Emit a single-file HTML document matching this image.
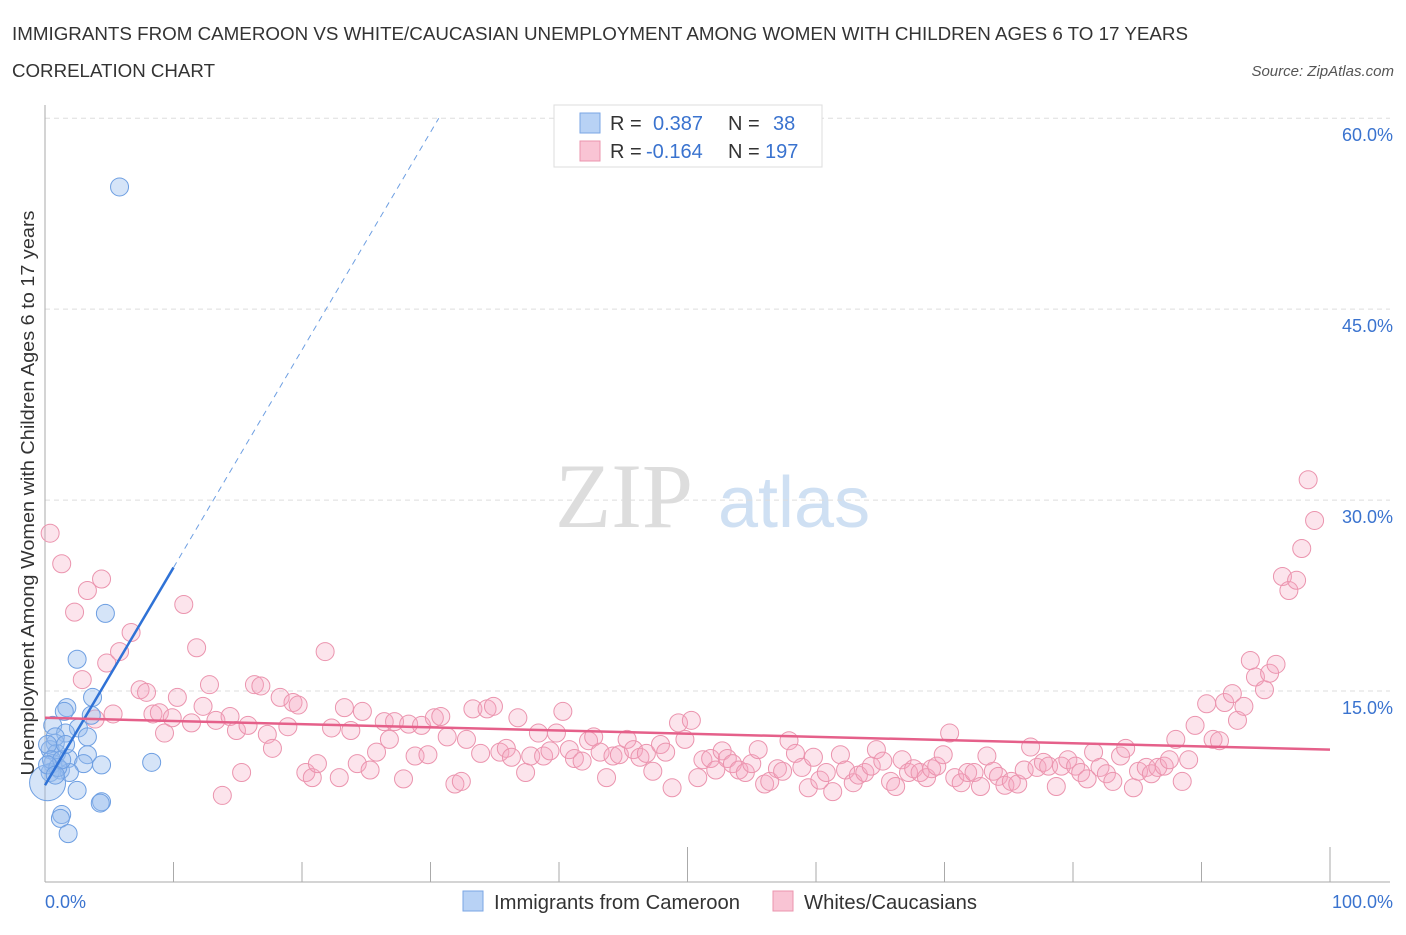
<!DOCTYPE html>
<html><head><meta charset="utf-8"><style>
body{margin:0;background:#fff;font-family:"Liberation Sans",sans-serif;}
</style></head><body>
<svg id="chart" width="1406" height="930" xmlns="http://www.w3.org/2000/svg" font-family="Liberation Sans, sans-serif">
<text x="12" y="40" font-size="18" fill="#333" textLength="1176" lengthAdjust="spacingAndGlyphs">IMMIGRANTS FROM CAMEROON VS WHITE/CAUCASIAN UNEMPLOYMENT AMONG WOMEN WITH CHILDREN AGES 6 TO 17 YEARS</text>
<text x="12" y="77" font-size="18" fill="#333" textLength="203" lengthAdjust="spacingAndGlyphs">CORRELATION CHART</text>
<text x="1394" y="76" font-size="15" fill="#555" font-style="italic" text-anchor="end">Source: ZipAtlas.com</text>
<text x="555" y="527" font-size="92" fill="#ddd" font-family="Liberation Serif, serif">ZIP</text>
<text x="718" y="527" font-size="72" fill="#cfe0f3">atlas</text>
<g id="grid"></g>
<g id="axes"></g>
<g id="points"></g>
<g id="trends"></g>
<text transform="translate(34,493) rotate(-90)" font-size="18" fill="#333" text-anchor="middle" textLength="565" lengthAdjust="spacingAndGlyphs">Unemployment Among Women with Children Ages 6 to 17 years</text>
<g>
<rect x="554" y="105" width="268" height="62" fill="#fff" stroke="#ddd"/>
<rect x="580" y="113" width="20" height="20" fill="#b8d2f5" stroke="#7aa6e4"/>
<rect x="580" y="141" width="20" height="20" fill="#f9c4d4" stroke="#eb94ae"/>
<text x="610" y="130" font-size="20" fill="#333">R = </text><text x="653" y="130" font-size="20" fill="#3a73cf">0.387</text>
<text x="728" y="130" font-size="20" fill="#333">N = </text><text x="773" y="130" font-size="20" fill="#3a73cf">38</text>
<text x="610" y="158" font-size="20" fill="#333">R = </text><text x="646" y="158" font-size="20" fill="#3a73cf">-0.164</text>
<text x="728" y="158" font-size="20" fill="#333">N = </text><text x="765" y="158" font-size="20" fill="#3a73cf">197</text>
</g>
<g>
<rect x="463" y="891" width="20" height="20" fill="#b8d2f5" stroke="#7aa6e4"/>
<text x="494" y="909" font-size="20" fill="#333" textLength="246" lengthAdjust="spacingAndGlyphs">Immigrants from Cameroon</text>
<rect x="773" y="891" width="20" height="20" fill="#f9c4d4" stroke="#eb94ae"/>
<text x="804" y="909" font-size="20" fill="#333" textLength="173" lengthAdjust="spacingAndGlyphs">Whites/Caucasians</text>
</g>
</svg>
<script>
const yTicks=[15,30,45,60];
const yTickLabels=["15.0%","30.0%","45.0%","60.0%"];
const xTicks=[0,10,20,30,40,50,60,70,80,90,100];
const blueX=[5.8,4.7,2.5,3.7,1.7,1.5,3.6,0.6,2.6,1.6,3.3,0.8,0.4,0.9,1.8,3.3,3.0,4.4,0.6,1.2,1.9,0.4,0.2,2.5,4.4,4.3,1.3,1.2,1.8,8.3,0.8,0.2,0.5,1.0,1.3,0.2,0.8,1.6];
const blueY=[54.6,21.1,17.5,14.5,13.7,13.4,13.1,12.3,12.1,11.7,11.4,10.9,10.4,10.1,9.7,10.0,9.3,9.2,9.3,8.8,8.6,8.6,7.8,7.2,6.3,6.2,5.3,5.0,3.8,9.4,11.4,10.8,9.6,9.0,9.6,9.2,8.4,10.8];
const pinkX=[0.4,1.3,2.3,3.3,4.4,2.9,4.8,5.8,6.7,5.3,3.9,7.4,7.9,8.4,8.9,9.3,9.9,10.3,10.8,11.4,11.8,12.3,12.8,13.3,13.8,14.4,14.9,15.3,15.8,16.3,16.8,17.3,17.7,18.3,18.9,19.3,19.7,20.3,20.8,21.2,21.8,22.3,22.9,23.3,23.8,24.3,24.7,25.3,25.8,26.4,26.8,27.2,27.9,28.3,28.8,29.3,29.8,30.3,30.8,31.3,31.9,32.4,32.8,33.3,33.9,34.4,34.9,35.4,35.9,36.3,36.8,37.4,37.8,38.4,38.8,39.3,39.8,40.3,40.8,41.2,41.8,42.3,42.7,43.2,43.7,44.2,44.7,45.3,45.8,46.3,46.8,47.3,47.9,48.3,48.8,49.3,49.8,50.3,50.8,51.2,51.8,52.2,52.7,53.1,53.5,54.0,54.5,55.0,55.5,56.0,56.4,57.0,57.4,57.9,58.4,58.9,59.4,59.8,60.3,60.8,61.3,61.9,62.3,62.9,63.3,63.8,64.3,64.7,65.2,65.8,66.2,66.7,67.2,67.6,68.1,68.6,69.0,69.4,69.9,70.4,70.8,71.3,71.8,72.3,72.8,73.3,73.8,74.2,74.7,75.2,75.7,76.2,76.7,77.2,77.7,78.1,78.7,79.1,79.6,80.2,80.6,81.1,81.6,82.1,82.6,83.1,83.7,84.1,84.7,85.1,85.7,86.1,86.6,87.1,87.5,88.0,88.5,89.0,89.5,90.4,90.9,91.4,91.8,92.4,92.8,93.3,93.8,94.2,94.9,95.3,95.8,96.3,96.8,97.4,97.8,98.3,98.8];
const pinkY=[27.4,25.0,21.2,22.9,23.8,15.9,17.2,18.1,19.6,13.2,12.8,15.1,14.9,13.2,13.3,11.7,12.9,14.5,21.8,12.5,18.4,13.8,15.5,12.7,6.8,13.0,11.9,8.6,12.3,15.5,15.4,11.6,10.5,14.5,12.2,14.1,13.9,8.6,8.2,9.3,18.1,12.1,8.2,13.7,11.9,9.3,13.4,8.8,10.2,12.6,11.2,12.6,8.1,12.4,9.9,12.3,10.0,12.9,13.0,11.4,7.7,7.9,11.2,13.6,10.1,13.6,13.8,10.2,10.5,9.8,12.9,8.6,9.9,11.7,9.9,10.3,11.7,13.4,10.4,9.7,9.5,11.1,11.4,10.2,8.2,9.9,10.0,11.2,10.4,9.8,10.1,8.7,10.8,10.2,7.4,12.5,11.2,12.7,8.2,9.6,9.7,8.8,10.3,9.7,9.3,8.8,8.6,9.3,10.4,7.7,7.9,8.9,8.7,11.1,10.1,9.0,7.4,9.8,8.0,8.6,7.1,10.0,8.8,7.8,8.4,8.6,9.1,10.4,9.5,7.9,7.5,9.6,8.6,8.9,8.6,8.2,8.9,9.1,10.0,11.7,8.2,7.8,8.6,8.6,7.5,9.9,8.7,8.3,7.6,7.9,7.7,8.8,10.6,9.0,9.4,9.1,7.5,9.1,9.6,9.1,8.6,8.1,10.2,9.0,8.5,7.9,9.9,10.5,7.4,8.7,9.0,8.5,9.0,9.1,9.6,11.2,7.9,9.6,12.3,14.0,11.2,11.1,14.1,14.8,12.7,13.8,17.4,16.1,15.1,16.4,17.1,24.0,22.9,23.7,26.2,31.6,28.4];
const blueTrend=[7.6,1.71];
const pinkTrend=[12.9,-0.025];
const X0=45,X1=1330,Y0=882,YPER=12.73;
function sx(v){return X0+(X1-X0)*v/100;}
function sy(v){return Y0-v*YPER;}
const NS="http://www.w3.org/2000/svg";
function mk(tag,attrs,parent){const e=document.createElementNS(NS,tag);for(const k in attrs)e.setAttribute(k,attrs[k]);parent.appendChild(e);return e;}
const grid=document.getElementById('grid'),axes=document.getElementById('axes'),pts=document.getElementById('points'),tr=document.getElementById('trends');
yTicks.forEach((t,i)=>{
 const l=mk('line',{x1:X0,x2:1390,y1:sy(t),y2:sy(t),stroke:'#ddd','stroke-dasharray':'5,4'},grid);
 
 
 const tx=mk('text',{x:1393,y:sy(t)+23,'font-size':18,fill:'#3a73cf','text-anchor':'end'},grid);
 tx.textContent=yTickLabels[i];
 
 
});
const ya=mk('line',{x1:X0,x2:X0,y1:105,y2:Y0,stroke:'#aaa'},axes);


const xa=mk('line',{x1:X0,x2:1390,y1:Y0,y2:Y0,stroke:'#aaa'},axes);


xTicks.forEach(t=>{
 if(t===0)return;
 const big=(t===50||t===100);
 const l=mk('line',{x1:sx(t),x2:sx(t),y1:big?847:862,y2:Y0,stroke:'#aaa'},axes);
 
 
});
const xl0=mk('text',{x:45,y:908,'font-size':18,fill:'#3a73cf'},axes);xl0.textContent='0.0%';


const xl1=mk('text',{x:1393,y:908,'font-size':18,fill:'#3a73cf','text-anchor':'end'},axes);xl1.textContent='100.0%';


pinkX.forEach((x,i)=>{
 const c=mk('circle',{cx:sx(x),cy:sy(pinkY[i]),r:9,fill:'rgba(244,165,192,0.3)',stroke:'#eb94ae','stroke-width':1},pts);
 
 
});
blueX.forEach((x,i)=>{
 const c=mk('circle',{cx:sx(x),cy:sy(blueY[i]),r:i===22?18:9,fill:'rgba(150,188,238,0.4)',stroke:'#6e9fe2','stroke-width':1},pts);
 
 
});
const bs=mk('line',{x1:sx(0),y1:sy(blueTrend[0]),x2:sx(10),y2:sy(blueTrend[0]+blueTrend[1]*10),stroke:'#2f72d6','stroke-width':2.5},tr);


const xe=(60-blueTrend[0])/blueTrend[1];
const bd=mk('line',{x1:sx(10),y1:sy(blueTrend[0]+blueTrend[1]*10),x2:sx(xe),y2:sy(60),stroke:'#6e9fe2','stroke-width':1,'stroke-dasharray':'6,5'},tr);


const ps=mk('line',{x1:sx(0),y1:sy(pinkTrend[0]),x2:sx(100),y2:sy(pinkTrend[0]+pinkTrend[1]*100),stroke:'#e5608a','stroke-width':2.5},tr);


</script>
</body></html>
